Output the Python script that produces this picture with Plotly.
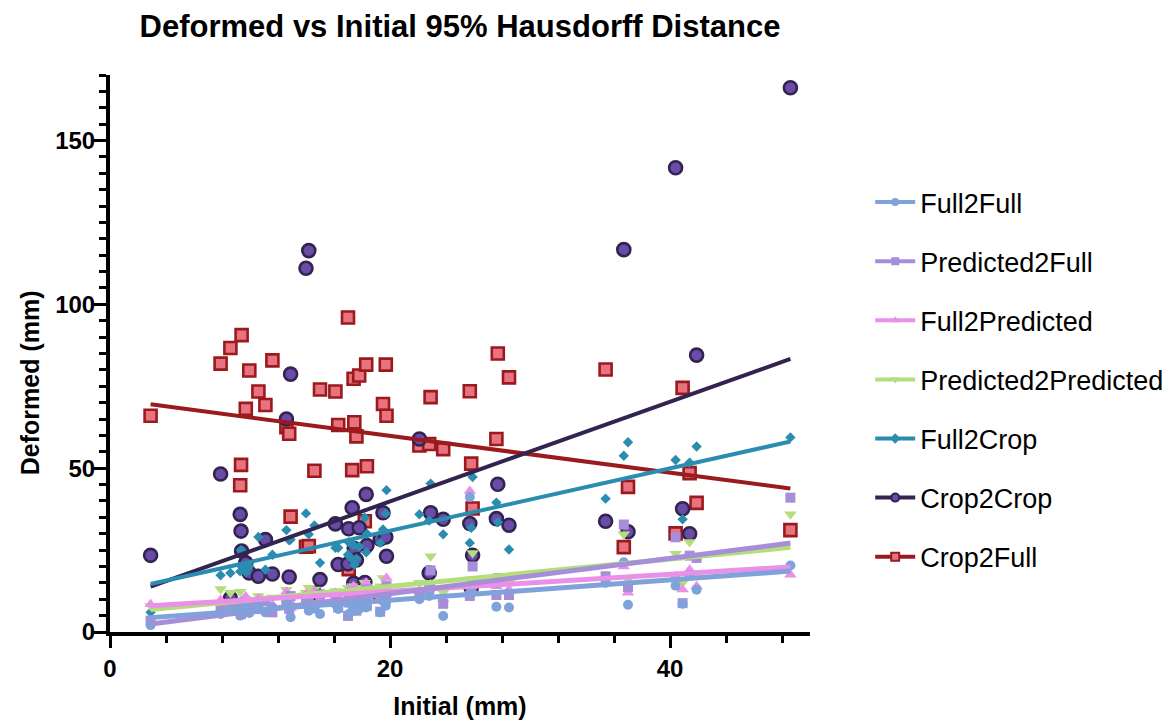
import numpy as np
import plotly.graph_objects as go

# ---------------- data ----------------
initial = [2.9, 7.9, 8.6, 9.3, 9.36, 9.4, 9.7, 9.95, 10.6, 11.1, 11.6, 12.6, 12.9, 12.8,
           14.0, 14.2, 14.6, 15.0, 16.1, 16.3, 17.0, 17.05, 17.3, 17.4, 17.45, 17.6, 17.8,
           18.2, 18.3, 18.35, 19.3, 19.5, 19.7, 19.75, 22.1, 22.9, 22.8, 23.8, 25.7, 25.8,
           25.9, 27.6, 27.7, 28.5, 35.4, 36.7, 37.0, 40.4, 40.9, 41.4, 41.9, 48.6]

full2full = [2.1, 5.5, 6.5, 5.0, 7.0, 6.2, 8.0, 5.8, 8.5, 6.0, 7.5, 9.5, 4.5, 8.0,
             9.0, 6.5, 7.2, 5.5, 8.5, 7.0, 10.0, 5.5, 8.0, 11.0, 6.5, 8.5, 7.0,
             11.5, 7.5, 9.0, 6.0, 9.5, 8.0, 12.0, 10.0, 13.6, 11.0, 4.9, 41.2, 12.0,
             15.6, 7.7, 14.9, 7.5, 15.0, 21.3, 8.3, 14.1, 8.6, 17.4, 12.9, 20.3]

predicted2full = [3.5, 7.0, 8.0, 7.5, 5.5, 9.0, 6.5, 8.0, 7.0, 9.5, 6.0, 8.5, 11.0, 7.0,
                  9.0, 10.5, 8.0, 11.5, 10.0, 7.5, 4.9, 9.0, 12.0, 8.0, 10.5, 6.5, 11.0,
                  9.5, 13.0, 8.0, 6.2, 12.5, 10.0, 14.0, 11.5, 18.8, 13.0, 8.6, 11.0, 12.5,
                  20.0, 11.3, 16.4, 11.3, 17.0, 32.8, 13.7, 28.9, 8.8, 23.3, 22.6, 41.0]

full2predicted = [8.5, 9.8, 6.8, 8.3, 9.3, 7.3, 10.8, 7.8, 10.3, 8.8, 8.3, 12.3, 7.3, 9.8,
                  11.5, 9.0, 12.5, 10.0, 12.0, 9.5, 10.5, 13.0, 9.0, 14.0, 10.5, 11.5, 9.5,
                  12.5, 15.0, 11.0, 10.0, 13.5, 11.5, 16.5, 12.5, 14.5, 13.0, 10.0, 43.0, 14.0,
                  12.5, 14.0, 16.5, 13.0, 17.0, 20.0, 12.0, 17.0, 13.0, 19.0, 14.0, 17.5]

predicted2predicted = [8.0, 13.1, 12.0, 12.3, 7.5, 9.0, 10.0, 8.5, 11.0, 9.5, 10.5, 12.9, 8.0, 10.5,
                       12.0, 13.5, 13.0, 10.5, 12.5, 11.0, 13.5, 9.5, 14.0, 12.0, 10.5, 13.5, 11.0,
                       15.0, 12.5, 11.0, 14.0, 16.5, 13.0, 11.5, 15.0, 23.1, 14.0, 12.0, 16.0, 11.0,
                       24.1, 12.0, 16.0, 14.9, 16.0, 29.8, 16.0, 23.9, 15.0, 27.5, 17.5, 35.9]

full2crop = [6.0, 17.3, 18.0, 18.5, 25.0, 20.0, 18.2, 20.0, 29.0, 19.0, 23.6, 31.1, 28.2, 28.0,
             36.2, 29.8, 32.5, 21.1, 25.7, 25.7, 23.6, 27.4, 22.1, 26.5, 20.5, 22.3, 26.0,
             34.9, 24.3, 30.0, 27.2, 31.3, 36.2, 43.3, 35.9, 45.3, 34.0, 29.8, 27.2, 31.8,
             47.3, 39.5, 33.5, 25.2, 40.7, 53.8, 57.9, 52.5, 34.4, 51.7, 56.6, 59.4]

crop2crop = [23.4, 48.2, 10.3, 35.9, 30.8, 24.7, 21.1, 18.0, 17.0, 28.2, 17.7, 65.0, 78.7, 16.8,
             111.0, 116.4, 12.0, 16.0, 33.0, 20.6, 20.8, 31.5, 37.9, 14.9, 25.5, 22.0, 31.8,
             15.1, 42.0, 26.4, 28.4, 36.4, 29.0, 23.1, 58.9, 36.4, 18.0, 34.4, 33.1, 13.4,
             23.4, 34.6, 45.1, 32.6, 33.8, 116.7, 30.6, 141.7, 37.6, 30.0, 84.5, 166.1]

crop2full = [66.0, 81.9, 86.7, 44.8, 51.0, 90.6, 68.1, 79.8, 73.4, 69.3, 82.9, 62.5, 35.2, 60.5,
             26.0, 26.2, 49.2, 74.0, 73.4, 63.2, 96.0, 19.2, 49.4, 77.3, 64.0, 59.7, 78.3,
             33.8, 81.6, 50.6, 11.0, 69.6, 81.6, 66.0, 56.9, 71.7, 57.4, 55.8, 73.5, 51.4,
             37.7, 58.9, 85.0, 77.7, 80.1, 25.9, 44.3, 30.1, 74.5, 48.5, 39.4, 31.1]

series_names = ["Full2Full", "Predicted2Full", "Full2Predicted", "Predicted2Predicted",
                "Full2Crop", "Crop2Crop", "Crop2Full"]
series_values = [full2full, predicted2full, full2predicted, predicted2predicted,
                 full2crop, crop2crop, crop2full]

# ---------------- styles ----------------
styles = {
    "Full2Full": dict(symbol="circle", color="#7ea2d9", size=10, lc="#7ea2d9", lw=0, fitw=5, fitc="#7ea2d9"),
    "Predicted2Full": dict(symbol="square", color="#a68ed8", size=10, lc="#a68ed8", lw=0, fitw=5, fitc="#a68ed8"),
    "Full2Predicted": dict(symbol="triangle-up", color="#ea90e8", size=11, lc="#ea90e8", lw=0, fitw=5, fitc="#ea90e8"),
    "Predicted2Predicted": dict(symbol="triangle-down", color="#b4dd7c", size=11, lc="#b4dd7c", lw=0, fitw=5, fitc="#b4dd7c"),
    "Full2Crop": dict(symbol="diamond", color="#2a8db0", size=8, lc="#2a8db0", lw=0, fitw=4, fitc="#2a8db0"),
    "Crop2Crop": dict(symbol="circle", color="#6a4ca8", size=13, lc="#33244f", lw=2.6, fitw=4, fitc="#33244f"),
    "Crop2Full": dict(symbol="square", color="#e8737f", size=12, lc="#9b1a1e", lw=2.6, fitw=4, fitc="#9b1a1e"),
}

x = np.array(initial, dtype=float)
fig = go.Figure()

# scatter points (large series underneath, small series on top)
for name, vals in reversed(list(zip(series_names, series_values))):
    s = styles[name]
    fig.add_trace(go.Scatter(
        x=initial, y=vals, mode="markers", name=name, showlegend=False,
        marker=dict(symbol=s["symbol"], size=s["size"], color=s["color"],
                    line=dict(color=s["lc"], width=s["lw"])),
        hoverinfo="x+y+name"))

# linear regression lines computed from the data
for name, vals in reversed(list(zip(series_names, series_values))):
    s = styles[name]
    slope, intercept = np.polyfit(x, np.array(vals, dtype=float), 1)
    xs = np.array([x.min(), x.max()])
    fig.add_trace(go.Scatter(
        x=xs, y=slope * xs + intercept, mode="lines", showlegend=False,
        line=dict(color=s["fitc"], width=s["fitw"]), hoverinfo="skip"))

# legend entries
for name in series_names:
    s = styles[name]
    fig.add_trace(go.Scatter(
        x=[None], y=[None], mode="lines+markers", name=name, legendgroup=name,
        line=dict(color=s["fitc"], width=4),
        marker=dict(symbol=s["symbol"], size=8, color=s["color"],
                    line=dict(color=s["lc"], width=min(s["lw"], 2)))))

font_family = "Liberation Sans, Arial, sans-serif"

fig.update_layout(
    width=1175, height=721,
    margin=dict(l=102, r=373, t=67, b=97),
    paper_bgcolor="white", plot_bgcolor="white",
    font=dict(family=font_family, color="black"),
    title=dict(text="<b>Deformed vs Initial 95% Hausdorff Distance</b>",
               x=0.5, xref="paper", xanchor="center",
               y=1 - 18 / 721, yref="container", yanchor="middle",
               font=dict(size=31, family=font_family, color="black")),
    legend=dict(x=1.086, xanchor="left", y=0.815, yanchor="top",
                font=dict(size=27, family=font_family, color="black"),
                tracegroupgap=21, itemwidth=40, bgcolor="rgba(0,0,0,0)"),
    showlegend=True,
    annotations=[dict(text="<b>Deformed (mm)</b>", textangle=-90,
                      xref="paper", yref="paper", x=-0.114, y=0.447,
                      xanchor="center", yanchor="middle", showarrow=False,
                      font=dict(size=25, family=font_family, color="black"))],
)

fig.update_xaxes(
    range=[0, 50], showgrid=False, zeroline=False, automargin=False,
    showline=True, linewidth=4, linecolor="black",
    ticks="outside", ticklen=12, tickwidth=3, tickcolor="black",
    tick0=0, dtick=20,
    minor=dict(ticks="outside", ticklen=7, tickwidth=3, tickcolor="black", dtick=4, showgrid=False),
    tickfont=dict(size=24, family=font_family, color="black", weight="bold"),
    title=dict(text="<b>Initial (mm)</b>", font=dict(size=25, family=font_family, color="black"),
               standoff=18),
)
fig.update_yaxes(
    range=[0, 170], showgrid=False, zeroline=False, automargin=False,
    showline=True, linewidth=4, linecolor="black",
    ticks="outside", ticklen=12, tickwidth=3, tickcolor="black",
    tick0=0, dtick=50, ticklabelstandoff=-6,
    minor=dict(ticks="outside", ticklen=7, tickwidth=3, tickcolor="black", dtick=5, showgrid=False),
    tickfont=dict(size=24, family=font_family, color="black", weight="bold"),
)

fig.write_html("out.html")
